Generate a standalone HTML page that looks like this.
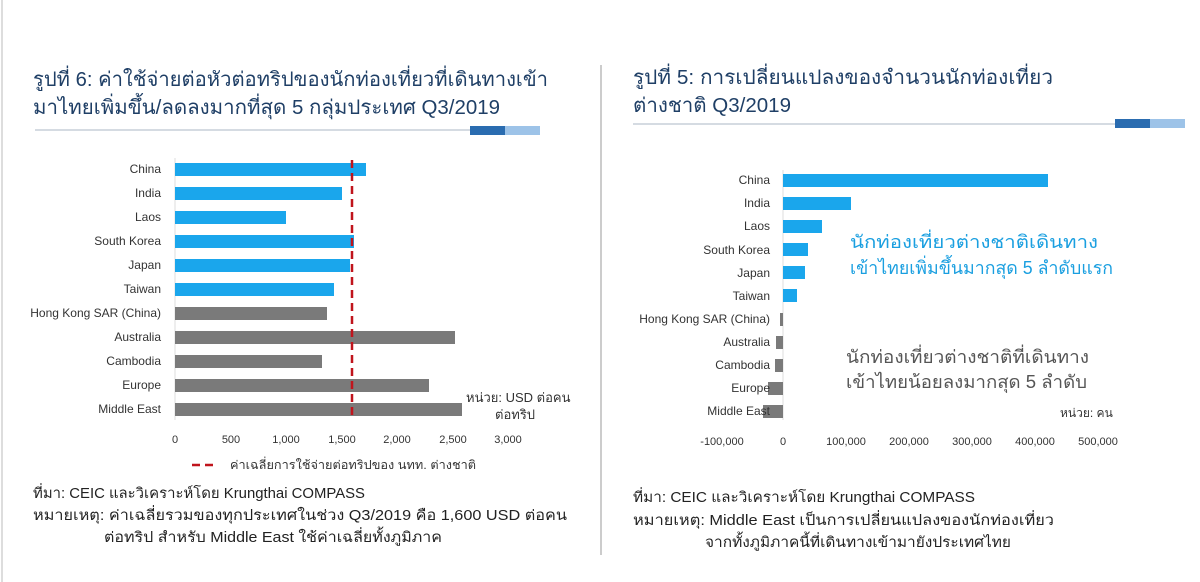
<!DOCTYPE html>
<html><head><meta charset="utf-8"><style>
html,body{margin:0;padding:0;background:#fff;width:1200px;height:582px;overflow:hidden}
svg{display:block}
text{font-family:"Liberation Sans","DejaVu Sans",sans-serif}
</style></head><body>
<svg width="1200" height="582" viewBox="0 0 1200 582">
<rect x="0" y="0" width="1200" height="582" fill="#fff"/>
<line x1="2" y1="0" x2="2" y2="582" stroke="#ddd" stroke-width="2"/>
<line x1="601" y1="65" x2="601" y2="555" stroke="#999" stroke-width="1"/>
<g fill="#1f3f66" font-size="20">
<text x="33" y="86" textLength="515" lengthAdjust="spacingAndGlyphs">รูปที่ 6: ค่าใช้จ่ายต่อหัวต่อทริปของนักท่องเที่ยวที่เดินทางเข้า</text>
<text x="33" y="114" textLength="467" lengthAdjust="spacingAndGlyphs">มาไทยเพิ่มขึ้น/ลดลงมากที่สุด 5 กลุ่มประเทศ Q3/2019</text>
<text x="633" y="84" textLength="420" lengthAdjust="spacingAndGlyphs">รูปที่ 5: การเปลี่ยนแปลงของจำนวนนักท่องเที่ยว</text>
<text x="633" y="112" textLength="158" lengthAdjust="spacingAndGlyphs">ต่างชาติ Q3/2019</text>
</g>
<line x1="35" y1="130" x2="470" y2="130" stroke="#d5dbe2" stroke-width="2"/>
<rect x="470" y="126" width="35" height="9" fill="#2a6cb0"/><rect x="505" y="126" width="35" height="9" fill="#9dc3e8"/>
<line x1="633" y1="124" x2="1115" y2="124" stroke="#d5dbe2" stroke-width="2"/>
<rect x="1115" y="119" width="35" height="9" fill="#2a6cb0"/><rect x="1150" y="119" width="35" height="9" fill="#9dc3e8"/>

<line x1="175" y1="158" x2="175" y2="420" stroke="#ddd"/>
<g fill="#1aa6ec">
<rect x="175" y="163" width="191" height="13"/>
<rect x="175" y="187" width="167" height="13"/>
<rect x="175" y="211" width="111" height="13"/>
<rect x="175" y="235" width="179" height="13"/>
<rect x="175" y="259" width="175" height="13"/>
<rect x="175" y="283" width="159" height="13"/>
</g>
<g fill="#7a7a7a">
<rect x="175" y="307" width="152" height="13"/>
<rect x="175" y="331" width="280" height="13"/>
<rect x="175" y="355" width="147" height="13"/>
<rect x="175" y="379" width="254" height="13"/>
<rect x="175" y="403" width="287" height="13"/>
</g>
<line x1="352" y1="160" x2="352" y2="420" stroke="#c0141c" stroke-width="2.5" stroke-dasharray="8,5"/>
<g font-size="12" fill="#333" text-anchor="end">
<text x="161" y="173">China</text><text x="161" y="197">India</text><text x="161" y="221">Laos</text>
<text x="161" y="245">South Korea</text><text x="161" y="269">Japan</text><text x="161" y="293">Taiwan</text>
<text x="161" y="317">Hong Kong SAR (China)</text><text x="161" y="341">Australia</text>
<text x="161" y="365">Cambodia</text><text x="161" y="389">Europe</text><text x="161" y="413">Middle East</text>
</g>
<g font-size="11" fill="#333" text-anchor="middle">
<text x="175" y="443">0</text><text x="231" y="443">500</text><text x="286" y="443">1,000</text>
<text x="342" y="443">1,500</text><text x="397" y="443">2,000</text><text x="453" y="443">2,500</text><text x="508" y="443">3,000</text>
</g>
<text x="466" y="402" font-size="13" fill="#333">หน่วย: USD ต่อคน</text>
<text x="495" y="419" font-size="13" fill="#333">ต่อทริป</text>
<line x1="192" y1="465" x2="216" y2="465" stroke="#c0141c" stroke-width="2.5" stroke-dasharray="8,5"/>
<text x="230" y="469" font-size="12" fill="#333" textLength="246" lengthAdjust="spacingAndGlyphs">ค่าเฉลี่ยการใช้จ่ายต่อทริปของ นทท. ต่างชาติ</text>
<g font-size="14.5" fill="#222">
<text x="33" y="498" textLength="332" lengthAdjust="spacingAndGlyphs">ที่มา: CEIC และวิเคราะห์โดย Krungthai COMPASS</text>
<text x="33" y="520" textLength="534" lengthAdjust="spacingAndGlyphs">หมายเหตุ: ค่าเฉลี่ยรวมของทุกประเทศในช่วง Q3/2019 คือ 1,600  USD ต่อคน</text>
<text x="104" y="542" textLength="338" lengthAdjust="spacingAndGlyphs">ต่อทริป สำหรับ Middle East ใช้ค่าเฉลี่ยทั้งภูมิภาค</text>
</g>

<line x1="783" y1="170" x2="783" y2="420" stroke="#ddd"/>
<g fill="#1aa6ec">
<rect x="783" y="174" width="265" height="13"/>
<rect x="783" y="197" width="68" height="13"/>
<rect x="783" y="220" width="39" height="13"/>
<rect x="783" y="243" width="25" height="13"/>
<rect x="783" y="266" width="22" height="13"/>
<rect x="783" y="289" width="14" height="13"/>
</g>
<g fill="#7a7a7a">
<rect x="780" y="313" width="3" height="13"/>
<rect x="776" y="336" width="7" height="13"/>
<rect x="775" y="359" width="8" height="13"/>
<rect x="768" y="382" width="15" height="13"/>
<rect x="763" y="405" width="20" height="13"/>
</g>
<g font-size="12" fill="#333" text-anchor="end">
<text x="770" y="184">China</text><text x="770" y="207">India</text><text x="770" y="230">Laos</text>
<text x="770" y="254">South Korea</text><text x="770" y="277">Japan</text><text x="770" y="300">Taiwan</text>
<text x="770" y="323">Hong Kong SAR (China)</text><text x="770" y="346">Australia</text>
<text x="770" y="369">Cambodia</text><text x="770" y="392">Europe</text><text x="770" y="415">Middle East</text>
</g>
<g font-size="11" fill="#333" text-anchor="middle">
<text x="722" y="445">-100,000</text><text x="783" y="445">0</text><text x="846" y="445">100,000</text>
<text x="909" y="445">200,000</text><text x="972" y="445">300,000</text><text x="1035" y="445">400,000</text><text x="1098" y="445">500,000</text>
</g>
<text x="1060" y="417" font-size="12" fill="#333">หน่วย: คน</text>
<text x="850" y="248" font-size="18" fill="#1a9fe0" textLength="248" lengthAdjust="spacingAndGlyphs">นักท่องเที่ยวต่างชาติเดินทาง</text>
<text x="850" y="274" font-size="18" fill="#1a9fe0" textLength="263" lengthAdjust="spacingAndGlyphs">เข้าไทยเพิ่มขึ้นมากสุด 5 ลำดับแรก</text>
<text x="846" y="363" font-size="18" fill="#555" textLength="243" lengthAdjust="spacingAndGlyphs">นักท่องเที่ยวต่างชาติที่เดินทาง</text>
<text x="846" y="388" font-size="18" fill="#555" textLength="241" lengthAdjust="spacingAndGlyphs">เข้าไทยน้อยลงมากสุด 5 ลำดับ</text>
<g font-size="14.5" fill="#222">
<text x="633" y="502" textLength="342" lengthAdjust="spacingAndGlyphs">ที่มา: CEIC และวิเคราะห์โดย Krungthai COMPASS</text>
<text x="633" y="525" textLength="421" lengthAdjust="spacingAndGlyphs">หมายเหตุ: Middle East เป็นการเปลี่ยนแปลงของนักท่องเที่ยว</text>
<text x="705" y="547" textLength="306" lengthAdjust="spacingAndGlyphs">จากทั้งภูมิภาคนี้ที่เดินทางเข้ามายังประเทศไทย</text>
</g>
</svg>
</body></html>
